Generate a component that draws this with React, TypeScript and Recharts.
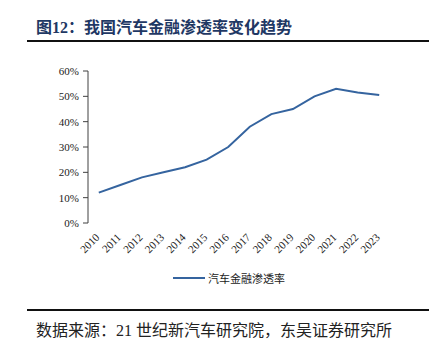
import { LineChart, Line, XAxis, YAxis } from "recharts";

const years = ["2010", "2011", "2012", "2013", "2014", "2015", "2016", "2017", "2018", "2019", "2020", "2021", "2022", "2023"];
const rates = [12, 15, 18, 20, 22, 25, 30, 38, 43, 45, 50, 53, 51.5, 50.5];
const yTicks = [0, 10, 20, 30, 40, 50, 60];
const seriesName = "汽车金融渗透率";
const title = "图12：我国汽车金融渗透率变化趋势";
const source = "数据来源：21 世纪新汽车研究院，东吴证券研究所";

const LINE = "#35649f";
const AXIS = "#404040";
const SERIF = "'Liberation Serif', 'Times New Roman', 'Noto Sans CJK SC', serif";

const data = years.map((y, i) => ({ idx: i + 0.5, year: y, rate: rates[i] }));
const boundaries = years.map((_, i) => i).concat(years.length);
const centers = years.map((_, i) => i + 0.5);

function YearTick(props: any) {
  const { x, y, payload } = props;
  const label = years[Math.floor(payload.value)];
  return (
    <text
      x={x}
      y={y}
      dx={-4}
      dy={6}
      transform={`rotate(-45 ${x} ${y})`}
      textAnchor="end"
      fontSize={11}
      fontFamily={SERIF}
      fill="#222"
    >
      {label}
    </text>
  );
}

export default function App() {
  return (
    <div
      style={{
        position: "absolute",
        left: 0,
        top: 0,
        width: 433,
        height: 353,
        background: "#fff",
        overflow: "hidden",
      }}
    >
      <div
        style={{
          position: "absolute",
          left: 36,
          top: 14,
          fontFamily: "'Liberation Serif', 'Noto Sans CJK SC', serif",
          fontWeight: 700,
          fontSize: 16,
          color: "#1f3864",
          whiteSpace: "nowrap",
        }}
      >
        {title}
      </div>
      <div style={{ position: "absolute", left: 27, top: 40, width: 402, height: 2, background: "#111" }} />

      <div style={{ position: "absolute", left: 0, top: 0 }}>
        <LineChart width={433} height={260} data={data} margin={{ top: 71, right: 43, bottom: 0, left: 0 }}>
          <XAxis
            xAxisId="grid"
            dataKey="idx"
            type="number"
            domain={[0, years.length]}
            ticks={boundaries}
            tick={false}
            tickSize={4}
            height={0}
            stroke={AXIS}
            interval={0}
          />
          <XAxis
            xAxisId="lab"
            dataKey="idx"
            type="number"
            domain={[0, years.length]}
            ticks={centers}
            tick={<YearTick />}
            tickLine={false}
            axisLine={false}
            height={37}
            interval={0}
          />
          <YAxis
            domain={[0, 60]}
            ticks={yTicks}
            tickFormatter={(v: number) => `${v}%`}
            width={88}
            tickSize={5}
            tickMargin={4}
            stroke={AXIS}
            tick={{ fontSize: 11, fontFamily: SERIF, fill: "#222" }}
            interval={0}
          />
          <Line
            xAxisId="grid"
            dataKey="rate"
            name={seriesName}
            stroke={LINE}
            strokeWidth={2}
            dot={false}
            isAnimationActive={false}
          />
        </LineChart>
      </div>

      <div style={{ position: "absolute", left: 173, top: 270, display: "flex", alignItems: "center", height: 16 }}>
        <div style={{ width: 32, height: 2, background: LINE }} />
        <span
          style={{
            marginLeft: 3,
            fontSize: 11,
            fontFamily: "'Noto Sans CJK SC', sans-serif",
            color: "#222",
            letterSpacing: 0,
            whiteSpace: "nowrap",
          }}
        >
          {seriesName}
        </span>
      </div>

      <div style={{ position: "absolute", left: 27, top: 309, width: 402, height: 2, background: "#111" }} />
      <div
        style={{
          position: "absolute",
          left: 36,
          top: 317,
          fontFamily: "'Liberation Serif', 'Noto Sans CJK SC', serif",
          fontSize: 16,
          color: "#222",
          whiteSpace: "nowrap",
        }}
      >
        {source}
      </div>
    </div>
  );
}
